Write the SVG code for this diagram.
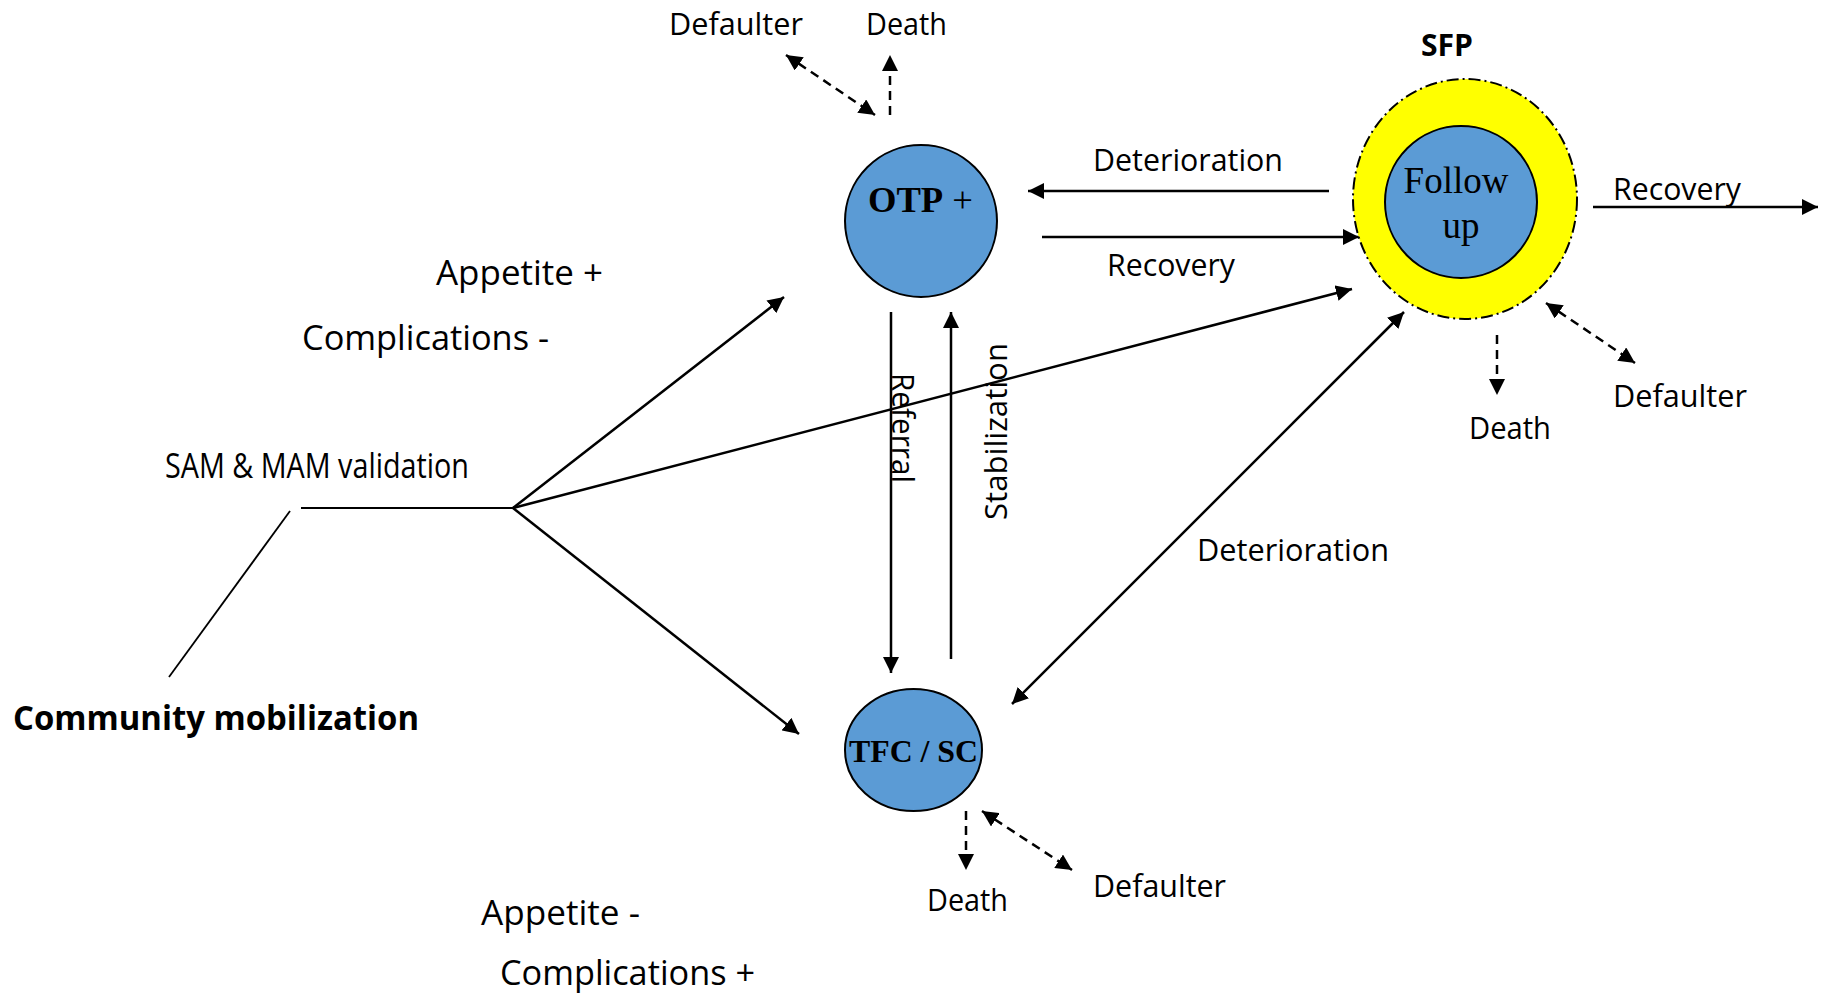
<svg xmlns="http://www.w3.org/2000/svg" width="1822" height="996" viewBox="0 0 1822 996">
<style>
.lbl{font-family:"Open Sans","DejaVu Sans",sans-serif;font-size:31px;fill:#000}
.cal{font-family:"Open Sans","DejaVu Sans",sans-serif;font-size:34px;fill:#000}
.ser{font-family:"Liberation Serif","Times New Roman",serif;fill:#000}
.ln{stroke:#000;stroke-width:2.5;fill:none}
.dash{stroke-dasharray:9 6}
.node{fill:#5b9bd5;stroke:#000;stroke-width:2}
</style>
<defs>
<marker id="ah" markerUnits="userSpaceOnUse" markerWidth="16" markerHeight="16" refX="14" refY="7" orient="auto-start-reverse" viewBox="0 0 14 14">
<path d="M0,0 L14,7 L0,14 z" fill="#000"/>
</marker>
</defs>
<rect width="1822" height="996" fill="#fff"/>

<g id="connectors">
<line class="ln dash" x1="786" y1="55" x2="875" y2="115" marker-start="url(#ah)" marker-end="url(#ah)"/>
<line class="ln dash" x1="890" y1="115" x2="890" y2="55" marker-end="url(#ah)"/>
<line class="ln" x1="1329" y1="191" x2="1028" y2="191" marker-end="url(#ah)"/>
<line class="ln" x1="1042" y1="237" x2="1359" y2="237" marker-end="url(#ah)"/>
<line class="ln" x1="1593" y1="207" x2="1818" y2="207" marker-end="url(#ah)"/>
<line class="ln dash" x1="1497" y1="335" x2="1497" y2="395" marker-end="url(#ah)"/>
<line class="ln dash" x1="1546" y1="303" x2="1635" y2="363" marker-start="url(#ah)" marker-end="url(#ah)"/>
<line class="ln" x1="891" y1="312" x2="891" y2="673" marker-end="url(#ah)"/>
<line class="ln" x1="951" y1="659" x2="951" y2="312" marker-end="url(#ah)"/>
<line class="ln" x1="1012" y1="704" x2="1404" y2="312" marker-start="url(#ah)" marker-end="url(#ah)"/>
<line class="ln dash" x1="966" y1="811" x2="966" y2="870" marker-end="url(#ah)"/>
<line class="ln dash" x1="982" y1="811" x2="1072" y2="870" marker-start="url(#ah)" marker-end="url(#ah)"/>
<line class="ln" x1="301" y1="508" x2="513" y2="508" style="stroke-width:2"/>
<line class="ln" x1="513" y1="508" x2="784" y2="297" marker-end="url(#ah)"/>
<line class="ln" x1="513" y1="508" x2="1352" y2="289" marker-end="url(#ah)"/>
<line class="ln" x1="513" y1="508" x2="799" y2="734" marker-end="url(#ah)"/>
<line class="ln" x1="290" y1="511" x2="169" y2="677" style="stroke-width:1.8"/>
</g>

<g id="otp">
<circle class="node" cx="921" cy="221" r="76"/>
<text class="ser" x="868" y="212" font-size="36" textLength="105" lengthAdjust="spacingAndGlyphs"><tspan font-weight="bold">OTP</tspan> +</text>
</g>

<g id="tfc">
<ellipse class="node" cx="913.5" cy="750" rx="68.5" ry="61"/>
<text class="ser" x="849" y="762" font-size="32" font-weight="bold" textLength="129" lengthAdjust="spacingAndGlyphs">TFC / SC</text>
</g>

<g id="sfp">
<ellipse cx="1465" cy="199" rx="112" ry="120" fill="#ffff00" stroke="#000" stroke-width="2" stroke-dasharray="12 4 2 4"/>
<circle class="node" cx="1461" cy="202" r="76"/>
<text class="ser" x="1456" y="193" font-size="37" text-anchor="middle">Follow</text>
<text class="ser" x="1461" y="238" font-size="37" text-anchor="middle">up</text>
<text class="lbl" x="1421" y="56" font-weight="bold" font-size="30" textLength="52" lengthAdjust="spacingAndGlyphs">SFP</text>
</g>

<g id="labels">
<text class="lbl" x="669" y="35" textLength="134" lengthAdjust="spacingAndGlyphs">Defaulter</text>
<text class="lbl" x="866" y="35" textLength="81" lengthAdjust="spacingAndGlyphs">Death</text>
<text class="lbl" x="1093" y="171" textLength="190" lengthAdjust="spacingAndGlyphs">Deterioration</text>
<text class="lbl" x="1107" y="276" textLength="128" lengthAdjust="spacingAndGlyphs">Recovery</text>
<text class="lbl" x="1613" y="200" textLength="128" lengthAdjust="spacingAndGlyphs">Recovery</text>
<text class="lbl" x="1613" y="407" textLength="134" lengthAdjust="spacingAndGlyphs">Defaulter</text>
<text class="lbl" x="1469" y="439" textLength="82" lengthAdjust="spacingAndGlyphs">Death</text>
<text class="lbl" x="1197" y="561" textLength="192" lengthAdjust="spacingAndGlyphs">Deterioration</text>
<text class="lbl" x="927" y="911" textLength="81" lengthAdjust="spacingAndGlyphs">Death</text>
<text class="lbl" x="1093" y="897" textLength="133" lengthAdjust="spacingAndGlyphs">Defaulter</text>
<text class="lbl" transform="translate(892 373) rotate(90)" textLength="110" lengthAdjust="spacingAndGlyphs">Referral</text>
<text class="lbl" transform="translate(1007 520) rotate(-90)" textLength="177" lengthAdjust="spacingAndGlyphs">Stabilization</text>
<text class="cal" x="436" y="285" textLength="167" lengthAdjust="spacingAndGlyphs">Appetite +</text>
<text class="cal" x="302" y="350" textLength="247" lengthAdjust="spacingAndGlyphs">Complications -</text>
<text class="cal" x="165" y="478" font-size="29" textLength="304" lengthAdjust="spacingAndGlyphs">SAM &amp; MAM validation</text>
<text class="cal" x="13" y="730" font-weight="bold" font-size="35" textLength="406" lengthAdjust="spacingAndGlyphs">Community mobilization</text>
<text class="cal" x="481" y="925" textLength="159" lengthAdjust="spacingAndGlyphs">Appetite -</text>
<text class="cal" x="500" y="985" textLength="255" lengthAdjust="spacingAndGlyphs">Complications +</text>
</g>
</svg>
